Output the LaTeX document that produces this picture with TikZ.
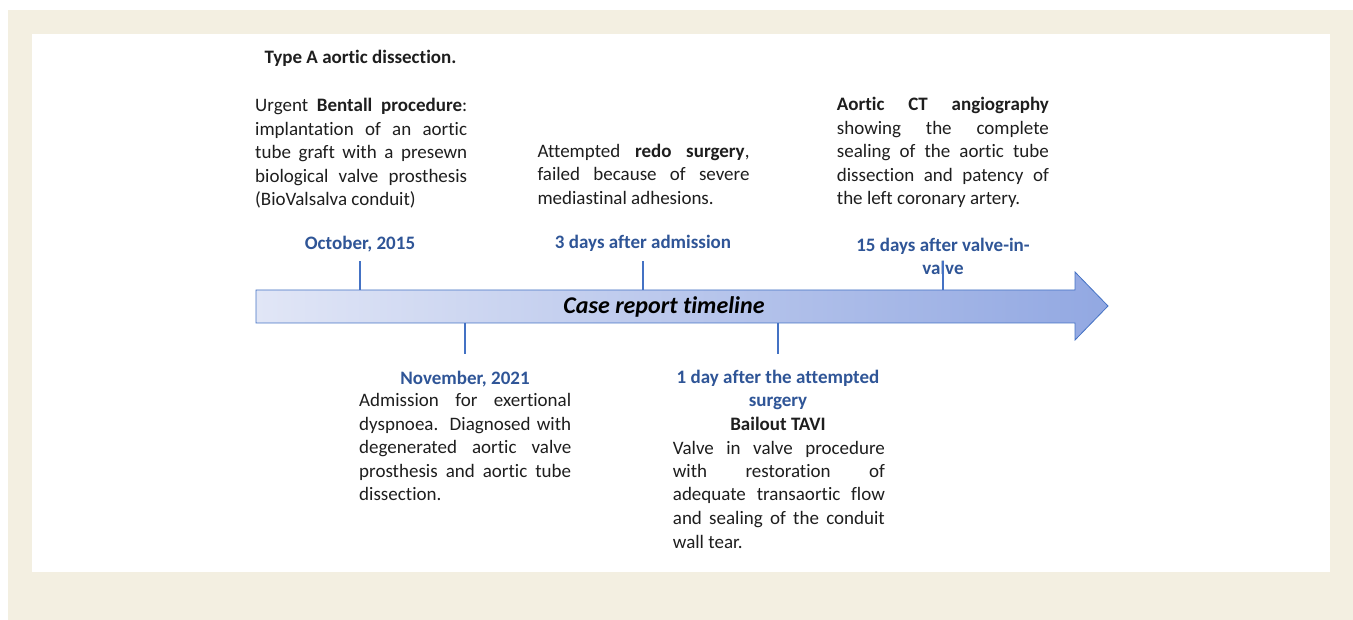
\documentclass[tikz,border=0pt]{standalone}
\usepackage{fontspec}
\setmainfont{Carlito}[Ligatures=NoCommon]
\usepackage{xcolor}
\usetikzlibrary{positioning}
\definecolor{framecol}{RGB}{243,239,225}
\definecolor{datecol}{RGB}{47,85,151}
\definecolor{tickcol}{RGB}{68,114,196}
\definecolor{txtcol}{RGB}{30,30,30}
\definecolor{arrowleft}{RGB}{225,230,246}
\definecolor{arrowright}{RGB}{146,168,226}
\tolerance=10000
\hyphenpenalty=10000
\exhyphenpenalty=10000

\begin{document}
\begin{tikzpicture}[x=1pt, y=-1pt,
    every node/.style = {inner sep=0pt, text=txtcol,
      font=\fontsize{19}{23.5}\selectfont},
    event/.style = {anchor=base west, text width=212pt, align=justify},
    date/.style = {anchor=base, align=center, text=datecol,
      font=\fontsize{19}{23.5}\selectfont\bfseries},
    tick/.style = {draw=tickcol, line width=1.4pt}]
  \useasboundingbox (0,0) rectangle (1353,620);
  \fill[framecol] (8,10) rectangle (1353,620);
  \fill[white] (32,34) rectangle (1330,572);

  % timeline arrow
  \path[draw=tickcol, line width=0.8pt, left color=arrowleft, right color=arrowright]
    (256,290) -- (1075,290) -- (1075,272) -- (1108,306) -- (1075,340)
    -- (1075,323) -- (256,323) -- cycle;
  \node[anchor=base, text=black, font=\fontsize{24}{28}\selectfont\bfseries\itshape]
    (timeline) at (664,314) {Case report timeline};

  % above the arrow
  \node[anchor=base, font=\fontsize{19}{23.5}\selectfont\bfseries]
    (typea) at (360.5,63.5) {Type A aortic dissection.};
  \node[event] (bentall) at (255,111.7) {Urgent \textbf{Bentall procedure}:\linebreak
    implantation of an aortic\linebreak tube graft with a presewn\linebreak
    biological valve prosthesis\linebreak (BioValsalva conduit)};
  \node[date] (oct) at (360,250) {October, 2015};

  \node[event] (redo) at (537.3,157.3) {Attempted \textbf{redo surgery},\linebreak
    failed because of severe\linebreak mediastinal adhesions.};
  \node[date] (threedays) at (643,249) {3 days after admission};

  \node[event] (ct) at (836.7,110.7) {\textbf{Aortic CT angiography}\linebreak
    showing the complete\linebreak sealing of the aortic tube\linebreak
    dissection and patency of\linebreak the left coronary artery.};
  \node[date] (fifteen) at (943,275) {15 days after valve-in-\\valve};

  % below the arrow
  \node[date] (nov) at (465,384.3) {November, 2021};
  \node[event] (admission) at (359,406.7) {Admission for exertional\linebreak
    dyspnoea. Diagnosed with\linebreak degenerated aortic valve\linebreak
    prosthesis and aortic tube\linebreak dissection.};

  \node[date] (oneday) at (778,406.8) {1 day after the attempted\\surgery};
  \node[anchor=base, font=\fontsize{19}{23.5}\selectfont\bfseries]
    (tavi) at (778,430.5) {Bailout TAVI};
  \node[event] (vinv) at (672.7,454) {Valve in valve procedure\linebreak
    with restoration of\linebreak adequate transaortic flow\linebreak
    and sealing of the conduit\linebreak wall tear.};

  % ticks
  \foreach \n/\x in {oct/360, threedays/643, fifteen/943} {
    \coordinate (\n-a) at (\x,290);
    \coordinate (\n-t) at (\x,261);
    \draw[tick] (\n-a) -- (\n-t);
  }
  \foreach \n/\x in {nov/465, oneday/778} {
    \coordinate (\n-a) at (\x,323);
    \coordinate (\n-t) at (\x,354);
    \draw[tick] (\n-a) -- (\n-t);
  }
\end{tikzpicture}
\end{document}
